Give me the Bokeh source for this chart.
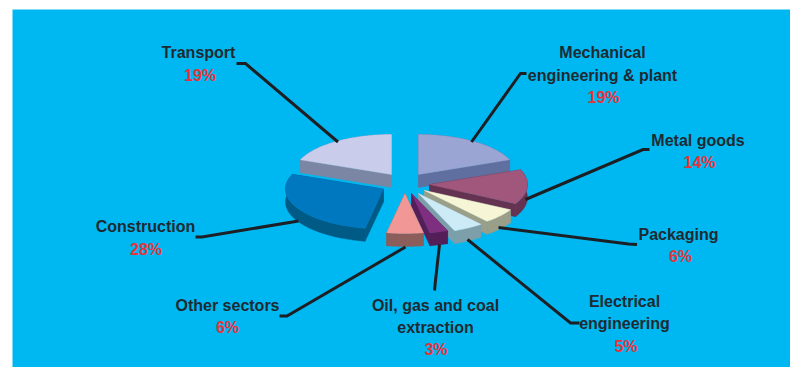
import math
from bokeh.core.properties import value
from bokeh.embed import file_html
from bokeh.models import ColumnDataSource, Range1d
from bokeh.plotting import figure
from bokeh.resources import INLINE

# Share of employment by sector, clockwise from twelve o'clock
sectors = ["Mechanical engineering & plant", "Metal goods", "Packaging",
           "Electrical engineering", "Oil, gas and coal extraction",
           "Other sectors", "Construction", "Transport"]
shares = [19, 14, 6, 5, 3, 6, 28, 19]

top_colors = ["#9AA5D3", "#A0577B", "#F6F6D7", "#CDEBF7",
              "#7F2F7F", "#F19795", "#0078C0", "#C9CDEB"]
side_colors = ["#5F6F9F", "#633351", "#9A9F8A", "#7D9FA9",
               "#541F59", "#8B5E5C", "#005A86", "#7A86A3"]

# Apex of each exploded wedge on the canvas
apexes = [(418, 174), (429, 184), (424, 190), (418, 193),
          (411, 193), (404.5, 193), (383, 188.5), (391, 174)]

RX, RY, DEPTH = 98, 40, 13
FONT = value("Liberation Sans")
INK = "#1E2A32"
RED = "#E5333B"
TEXT_SHIFT = 6  # baseline correction for the SVG text layer

W, H = 790, 367
p = figure(width=W, height=H, output_backend="svg", toolbar_location=None,
           x_range=Range1d(0, W), y_range=Range1d(H, 0), min_border=0,
           outline_line_color=None, background_fill_color="white")
p.axis.visible = False
p.grid.visible = False

p.quad(left=12, right=W, top=9, bottom=H, fill_color="#00B8F1", line_color=None)


def rim_points(apex, start, stop):
    """Outer arc of a flattened pie wedge; angles run clockwise from north."""
    steps = max(4, int(stop - start))
    pts = []
    for i in range(steps + 1):
        a = math.radians(start + (stop - start) * i / steps)
        pts.append((apex[0] + RX * math.sin(a), apex[1] - RY * math.cos(a)))
    return pts


def fill_poly(pts, color):
    p.patch([q[0] for q in pts], [q[1] for q in pts],
            fill_color=color, line_color=color, line_width=0.4)


def drop(pts):
    return [(x, y + DEPTH) for x, y in pts]


# Wedges painted from the back of the pie forward
cumulative = [sum(shares[:i]) for i in range(len(shares) + 1)]
total = cumulative[-1]
order = [7, 0, 1, 2, 3, 4, 5, 6]
for i in order:
    apex = apexes[i]
    rim = rim_points(apex, cumulative[i] / total * 360, cumulative[i + 1] / total * 360)
    # Walls: the outer band and the two cut faces, then the top face over them
    fill_poly(rim + drop(rim)[::-1], side_colors[i])
    fill_poly([apex, rim[0], drop(rim)[0], drop([apex])[0]], side_colors[i])
    fill_poly([apex, rim[-1], drop(rim)[-1], drop([apex])[0]], side_colors[i])
    fill_poly([apex] + rim, top_colors[i])

# Leader lines from each label to its wedge
leaders = [
    ([526, 520, 471], [73, 73, 141.5]),
    ([649, 642.5, 525], [149, 149, 199]),
    ([636.5, 628, 498], [244, 243.5, 227]),
    ([579, 570, 467], [322.5, 322.5, 239]),
    ([434, 435, 439], [290, 280, 244]),
    ([279, 286.5, 405], [315.5, 315.5, 246.5]),
    ([195, 201.5, 298], [236.5, 236.5, 220.5]),
    ([236, 245, 337.5], [63, 63, 141.5]),
]
for lx, ly in leaders:
    p.line(lx, ly, line_color="#1C2024", line_width=3, line_join="miter")

# Label text: (line, centre x, baseline y)
name_lines = [
    ("Mechanical", 602, 58), ("engineering & plant", 602, 80.5),
    ("Metal goods", 697.5, 146),
    ("Packaging", 678, 240),
    ("Electrical", 624, 307), ("engineering", 624, 329),
    ("Oil, gas and coal", 435, 311), ("extraction", 435, 333),
    ("Other sectors", 227, 311),
    ("Construction", 145, 232),
    ("Transport", 198, 58),
]
pct_positions = [(603, 103), (699, 167.5), (680, 262), (625.5, 352),
                 (435.5, 355), (227, 333), (145.5, 254.5), (199.5, 81)]

names = ColumnDataSource(dict(t=[n[0] for n in name_lines],
                              x=[n[1] for n in name_lines],
                              y=[n[2] - TEXT_SHIFT for n in name_lines]))
p.text("x", "y", text="t", source=names, text_font=FONT, text_font_size="16px",
       text_font_style="bold", text_color=INK, text_align="center", text_baseline="alphabetic")

pcts = ColumnDataSource(dict(t=[f"{s}%" for s in shares],
                             x=[q[0] for q in pct_positions],
                             y=[q[1] - TEXT_SHIFT for q in pct_positions]))
p.text("x", "y", text="t", source=pcts, text_font=FONT, text_font_size="16px",
       text_font_style="bold", text_color=RED, text_align="center", text_baseline="alphabetic")

open("out.html", "w").write(file_html(p, INLINE))
